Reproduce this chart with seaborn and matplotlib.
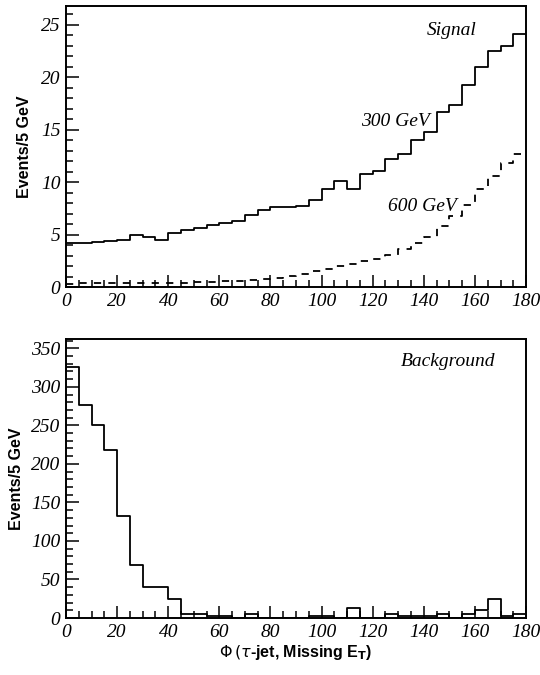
import numpy as np
import pandas as pd
import matplotlib
matplotlib.use("Agg")
import matplotlib.pyplot as plt
import seaborn as sns
from matplotlib.ticker import MultipleLocator

# ---- data (36 bins of 5 degrees, 0..180) ----
bin_edges = list(range(0, 185, 5))
signal_300 = [4.2, 4.2, 4.26, 4.36, 4.5, 5.0, 4.8, 4.5, 5.15, 5.4, 5.6, 5.9, 6.1, 6.25,
              6.9, 7.3, 7.6, 7.65, 7.75, 8.3, 9.3, 10.15, 9.3, 10.75, 11.1, 12.2, 12.7,
              14.0, 14.8, 16.7, 17.4, 19.3, 21.0, 22.5, 23.0, 24.1]
signal_600 = [0.33, 0.35, 0.36, 0.37, 0.38, 0.38, 0.39, 0.40, 0.41,
              0.42, 0.45, 0.50, 0.55, 0.62, 0.68, 0.80, 0.90, 1.05,
              1.22, 1.5, 1.7, 2.0, 2.2, 2.45, 2.7, 3.1, 3.6, 4.2,
              4.8, 5.8, 6.75, 7.8, 9.3, 10.55, 11.8, 12.7]
background = [325.5, 276.6, 250.6, 217.7, 132, 68.8, 39.8, 39.8, 25, 5.6, 5.6, 3, 3, 0,
              5.6, 0, 0, 0, 0, 3, 3, 0, 13, 0, 0, 5.6, 3, 3, 3, 5.6, 0, 5.6, 10, 24.7,
              3, 5.6]
x_ticks = [0, 20, 40, 60, 80, 100, 120, 140, 160, 180]
top_yticks = [0, 5, 10, 15, 20, 25]
bot_yticks = [0, 50, 100, 150, 200, 250, 300, 350]

centers = [(a + b) / 2 for a, b in zip(bin_edges[:-1], bin_edges[1:])]
df = pd.DataFrame({"phi": centers, "s300": signal_300, "s600": signal_600, "bkg": background})

sns.set_theme(style="white")
plt.rcParams["font.family"] = ["Liberation Serif", "DejaVu Serif"]
plt.rcParams["mathtext.fontset"] = "dejavusans"

fig = plt.figure(figsize=(5.4, 6.75), dpi=100)
ax1 = fig.add_axes([0.1222, 0.5748, 0.852, 0.4163])
ax2 = fig.add_axes([0.1222, 0.0844, 0.852, 0.4133])

sns.histplot(data=df, x="phi", weights="s300", bins=bin_edges, element="step", fill=False,
             color="black", linewidth=1.3, ax=ax1)
sns.histplot(data=df, x="phi", weights="s600", bins=bin_edges, element="step", fill=False,
             color="black", linewidth=1.3, linestyle=(0, (4, 4)), ax=ax1)
sns.histplot(data=df, x="phi", weights="bkg", bins=bin_edges, element="step", fill=False,
             color="black", linewidth=1.3, ax=ax2)

ylab_font = dict(family="Liberation Sans", weight="bold", size=11.5)

for ax, ymax, yt, ymin, lx in [(ax1, 26.8, top_yticks, 1, -0.074),
                               (ax2, 362, bot_yticks, 10, -0.092)]:
    ax.set_xlim(0, 180)
    ax.set_ylim(0, ymax)
    ax.set_xticks(x_ticks)
    ax.set_yticks(yt)
    ax.xaxis.set_minor_locator(MultipleLocator(5))
    ax.yaxis.set_minor_locator(MultipleLocator(ymin))
    ax.tick_params(which="both", direction="in", top=False, right=False,
                   bottom=True, left=True, color="black", width=1.1)
    ax.tick_params(which="major", length=9, pad=4)
    ax.tick_params(which="minor", length=5)
    for lbl in ax.get_xticklabels() + ax.get_yticklabels():
        lbl.set_fontfamily("Liberation Serif")
        lbl.set_fontstyle("italic")
        lbl.set_fontsize(14)
        lbl.set_color("black")
    for sp in ax.spines.values():
        sp.set_visible(True)
        sp.set_color("black")
        sp.set_linewidth(1.4)
    ax.set_ylabel("Events/5 GeV", fontdict=ylab_font, color="black")
    ax.set_xlabel("")
    ax.grid(False)
    ax.yaxis.set_label_coords(lx, 0.5)

lab = dict(family="Liberation Serif", style="italic", size=14, color="black",
           ha="center", va="center")
ax1.text(151, 24.5, "Signal", **lab)
ax1.text(128.7, 15.8, "300 GeV", **lab)
ax1.text(139.3, 7.7, "600 GeV", **lab)
ax2.text(149.4, 333, "Background", **lab)

ax2.set_xlabel(r"$\Phi\,(\tau$-jet, Missing E$_{\mathbf{T}}$)",
               fontdict=dict(family="Liberation Sans", weight="bold", size=11.5),
               color="black", labelpad=2)

fig.savefig("out.png", dpi=100)
